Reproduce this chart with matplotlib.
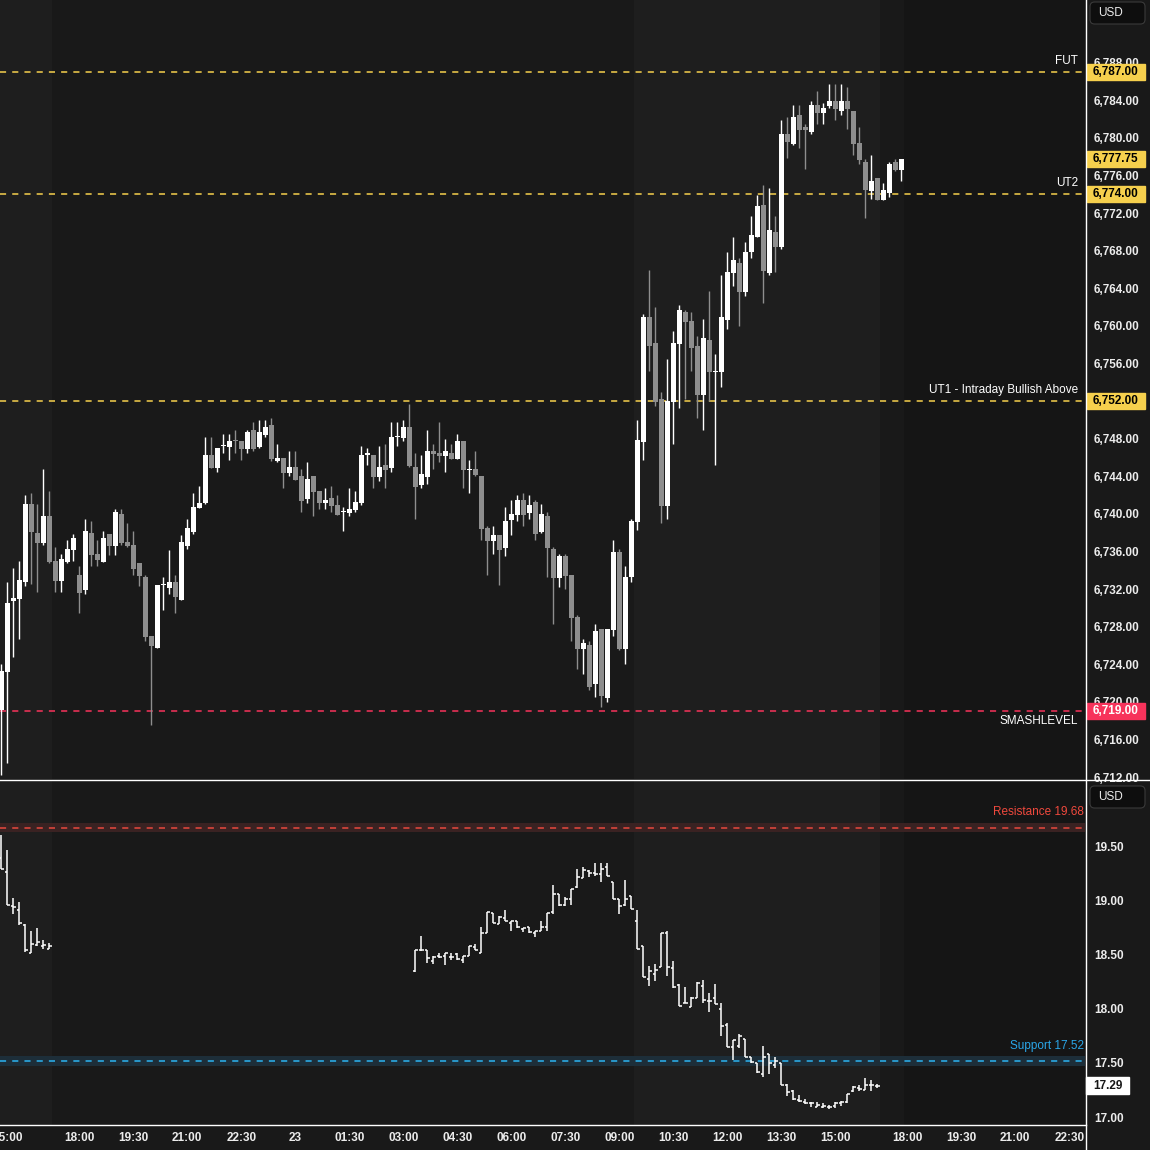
import numpy as np
import matplotlib.pyplot as plt
import matplotlib.transforms as mtransforms
from matplotlib.patches import Rectangle, FancyBboxPatch
from matplotlib.lines import Line2D

plt.rcParams['font.family'] = ['Liberation Sans', 'DejaVu Sans']

# ES futures, 10 minute candles (bar index 0 = 14:50)
es_open = [6719.1, 6723.2, 6730.7, 6730.9, 6732.7, 6741.0, 6738.0, 6736.9, 6739.8, 6735.0,
           6732.9, 6734.9, 6736.2, 6733.5, 6731.9, 6738.0, 6735.7, 6734.9, 6737.8, 6736.6,
           6740.0, 6737.0, 6736.7, 6734.8, 6733.3, 6727.0, 6725.7, 6732.4, 6732.1, 6732.7,
           6730.8, 6736.6, 6738.1, 6740.6, 6741.2, 6746.3, 6744.9, 6747.2, 6747.1, 6747.9,
           6747.7, 6746.9, 6748.9, 6747.1, 6748.4, 6749.4, 6745.6, 6745.9, 6744.3, 6745.0,
           6744.0, 6741.6, 6744.0, 6742.4, 6741.1, 6741.7, 6740.9, 6740.2, 6740.1, 6740.4,
           6741.1, 6746.3, 6746.3, 6743.9, 6745.2, 6744.9, 6748.2, 6748.1, 6749.2, 6745.0,
           6743.1, 6743.9, 6746.7, 6746.5, 6746.2, 6746.5, 6745.8, 6747.7, 6744.7, 6744.8,
           6744.0, 6738.5, 6737.1, 6737.7, 6736.4, 6739.3, 6739.9, 6741.5, 6740.1, 6741.3,
           6738.1, 6739.8, 6736.3, 6733.2, 6735.5, 6733.5, 6729.0, 6725.6, 6726.0, 6721.9,
           6727.7, 6720.4, 6727.6, 6735.9, 6725.6, 6733.3, 6739.1, 6747.6, 6760.9, 6758.2,
           6752.2, 6740.8, 6751.9, 6758.1, 6761.5, 6760.5, 6757.9, 6752.6, 6758.5, 6755.1,
           6755.1, 6760.6, 6765.6, 6766.7, 6763.6, 6767.9, 6769.5, 6772.9, 6765.6, 6770.0,
           6768.4, 6780.4, 6779.3, 6782.4, 6781.1, 6780.6, 6783.5, 6782.6, 6783.4, 6783.9,
           6782.8, 6783.9, 6782.9, 6779.4, 6777.4, 6774.3, 6775.7, 6773.4, 6774.1, 6777.4,
           6776.6]
es_high = [6724.0, 6732.8, 6734.2, 6735.0, 6742.0, 6742.2, 6741.0, 6744.8, 6742.4, 6736.5,
           6735.7, 6737.2, 6737.8, 6734.5, 6739.5, 6739.2, 6737.2, 6738.2, 6737.8, 6740.5,
           6740.5, 6739.0, 6738.2, 6734.8, 6733.5, 6727.0, 6732.4, 6733.3, 6736.2, 6733.5,
           6737.7, 6739.4, 6742.2, 6743.0, 6748.2, 6748.2, 6747.0, 6748.5, 6748.5, 6748.9,
           6747.7, 6748.9, 6749.8, 6750.0, 6750.0, 6750.2, 6747.4, 6745.9, 6746.7, 6746.7,
           6744.8, 6745.5, 6744.0, 6742.4, 6742.7, 6743.0, 6742.0, 6740.7, 6742.7, 6742.4,
           6747.2, 6747.0, 6746.3, 6747.2, 6747.4, 6749.8, 6749.8, 6750.0, 6751.7, 6746.5,
           6746.3, 6748.9, 6747.4, 6749.8, 6748.0, 6747.4, 6748.5, 6747.7, 6745.7, 6746.7,
           6744.0, 6738.7, 6738.7, 6737.7, 6740.7, 6741.5, 6742.0, 6742.2, 6742.0, 6741.5,
           6741.0, 6740.2, 6736.5, 6735.7, 6735.7, 6733.5, 6729.2, 6726.7, 6726.5, 6728.3,
           6727.7, 6727.7, 6737.2, 6736.3, 6734.4, 6739.5, 6750.0, 6761.3, 6765.9, 6762.0,
           6753.0, 6756.5, 6759.4, 6762.2, 6761.7, 6761.5, 6758.9, 6760.7, 6763.7, 6757.0,
           6765.4, 6767.9, 6769.4, 6767.2, 6768.9, 6771.7, 6773.9, 6775.0, 6774.7, 6771.7,
           6781.9, 6782.2, 6783.5, 6783.5, 6781.5, 6783.9, 6785.0, 6783.7, 6785.7, 6785.7,
           6785.7, 6785.4, 6782.9, 6781.1, 6777.7, 6778.2, 6775.7, 6775.2, 6777.4, 6777.7,
           6777.75]
es_low = [6712.2, 6713.5, 6724.8, 6726.7, 6732.3, 6732.5, 6731.7, 6736.7, 6734.8, 6731.7,
          6731.7, 6734.8, 6735.0, 6729.5, 6731.5, 6734.5, 6734.5, 6734.9, 6735.6, 6735.6,
          6736.7, 6736.5, 6733.5, 6732.3, 6726.5, 6717.5, 6725.7, 6729.8, 6731.5, 6729.5,
          6730.8, 6736.3, 6737.8, 6740.6, 6741.0, 6744.9, 6744.5, 6746.5, 6745.7, 6746.5,
          6745.7, 6746.5, 6746.7, 6747.0, 6748.2, 6745.6, 6745.5, 6742.7, 6744.0, 6743.6,
          6740.2, 6741.2, 6739.8, 6740.5, 6740.5, 6740.2, 6739.9, 6738.2, 6739.8, 6740.2,
          6740.9, 6745.2, 6742.7, 6743.5, 6742.7, 6744.4, 6747.2, 6747.7, 6745.0, 6739.4,
          6742.7, 6743.2, 6744.8, 6745.5, 6744.4, 6745.8, 6745.8, 6742.7, 6742.2, 6744.0,
          6737.2, 6733.5, 6735.7, 6732.4, 6735.5, 6737.7, 6739.2, 6738.7, 6739.4, 6737.2,
          6738.0, 6733.3, 6728.3, 6732.2, 6732.0, 6726.5, 6723.5, 6723.0, 6721.3, 6720.5,
          6719.5, 6720.0, 6727.0, 6725.5, 6724.0, 6732.8, 6738.3, 6745.7, 6755.2, 6751.5,
          6739.0, 6739.4, 6747.4, 6751.3, 6752.2, 6755.2, 6750.2, 6748.9, 6752.0, 6745.2,
          6753.5, 6759.7, 6764.2, 6760.0, 6763.2, 6767.2, 6769.4, 6762.4, 6765.4, 6765.7,
          6768.2, 6777.9, 6779.2, 6778.9, 6776.7, 6780.4, 6781.5, 6781.5, 6783.2, 6781.9,
          6782.4, 6780.9, 6778.2, 6777.2, 6771.5, 6773.5, 6773.4, 6773.4, 6773.7, 6776.5,
          6775.4]
es_close = [6723.3, 6730.5, 6731.0, 6733.0, 6741.0, 6738.1, 6736.9, 6739.8, 6734.9, 6732.9,
            6735.2, 6736.3, 6737.4, 6731.6, 6738.2, 6735.6, 6735.1, 6737.4, 6736.6, 6740.2,
            6736.9, 6736.6, 6734.1, 6733.4, 6726.9, 6725.9, 6732.4, 6732.5, 6732.7, 6731.2,
            6737.0, 6738.5, 6740.7, 6741.2, 6746.3, 6744.9, 6747.0, 6747.3, 6747.7, 6747.7,
            6746.9, 6748.7, 6746.9, 6748.7, 6749.2, 6745.8, 6745.9, 6744.3, 6745.0, 6743.6,
            6741.4, 6743.7, 6742.3, 6741.1, 6741.5, 6740.8, 6739.9, 6740.3, 6740.5, 6741.3,
            6746.3, 6746.4, 6743.9, 6745.0, 6744.7, 6748.2, 6748.3, 6749.2, 6745.1, 6742.9,
            6744.2, 6746.7, 6746.4, 6746.2, 6746.7, 6745.8, 6747.7, 6744.7, 6744.8, 6744.1,
            6738.4, 6737.1, 6737.7, 6736.1, 6739.2, 6740.0, 6741.5, 6739.9, 6740.9, 6737.9,
            6740.0, 6736.4, 6733.2, 6735.5, 6733.4, 6728.9, 6725.6, 6726.3, 6721.6, 6727.5,
            6720.6, 6727.7, 6735.9, 6725.6, 6733.3, 6739.2, 6747.8, 6760.9, 6757.9, 6751.9,
            6740.8, 6752.0, 6758.2, 6761.7, 6760.4, 6757.6, 6752.6, 6758.7, 6755.1, 6755.2,
            6760.9, 6765.7, 6767.0, 6763.6, 6767.9, 6769.7, 6772.7, 6765.8, 6770.2, 6768.4,
            6780.4, 6779.6, 6782.2, 6780.8, 6780.8, 6783.5, 6782.6, 6783.2, 6783.9, 6783.1,
            6783.9, 6783.1, 6779.3, 6777.6, 6774.5, 6775.4, 6773.4, 6774.4, 6777.2, 6776.6,
            6777.75]

# VIX, 10 minute OHLC bars (same bar index, gap overnight)
vix_idx = list(range(0, 9)) + list(range(69, 147))
vix_open = [19.40, 19.27, 18.95, 18.92, 18.78, 18.52, 18.59, 18.58, 18.56,
            18.35, 18.55, 18.55, 18.44, 18.49, 18.49, 18.48, 18.51, 18.45, 18.49,
            18.57, 18.52, 18.70, 18.89, 18.79, 18.84, 18.80, 18.81, 18.74, 18.76,
            18.70, 18.72, 18.76, 18.90, 19.06, 18.96, 19.02, 19.13, 19.21, 19.28,
            19.26, 19.25, 19.31, 19.18, 19.02, 18.96, 19.05, 18.81, 18.58, 18.28,
            18.32, 18.39, 18.70, 18.38, 18.22, 18.06, 18.02, 18.10, 18.21, 18.07,
            18.10, 18.00, 17.85, 17.65, 17.66, 17.72, 17.56, 17.50, 17.40, 17.58,
            17.48, 17.50, 17.30, 17.24, 17.16, 17.14, 17.13, 17.09, 17.09, 17.09,
            17.10, 17.13, 17.14, 17.24, 17.27, 17.25, 17.30, 17.29]
vix_high = [19.61, 19.47, 19.03, 18.99, 18.79, 18.72, 18.75, 18.64, 18.61,
            18.55, 18.68, 18.55, 18.49, 18.52, 18.52, 18.52, 18.52, 18.49, 18.58,
            18.60, 18.76, 18.90, 18.89, 18.86, 18.92, 18.81, 18.81, 18.75, 18.76,
            18.72, 18.81, 18.89, 19.15, 19.06, 19.04, 19.11, 19.30, 19.31, 19.29,
            19.35, 19.35, 19.35, 19.18, 19.02, 19.19, 19.05, 18.92, 18.58, 18.40,
            18.42, 18.70, 18.72, 18.44, 18.23, 18.20, 18.11, 18.25, 18.27, 18.15,
            18.23, 18.06, 17.87, 17.71, 17.77, 17.72, 17.56, 17.50, 17.66, 17.58,
            17.56, 17.50, 17.31, 17.25, 17.20, 17.17, 17.14, 17.14, 17.13, 17.11,
            17.14, 17.15, 17.21, 17.29, 17.30, 17.36, 17.34, 17.31]
vix_low = [19.30, 18.96, 18.88, 18.78, 18.53, 18.52, 18.58, 18.56, 18.56,
           18.34, 18.54, 18.43, 18.42, 18.47, 18.41, 18.45, 18.45, 18.43, 18.49,
           18.55, 18.52, 18.70, 18.80, 18.79, 18.81, 18.72, 18.75, 18.71, 18.70,
           18.67, 18.72, 18.72, 18.88, 18.95, 18.95, 18.96, 19.12, 19.21, 19.22,
           19.23, 19.18, 19.23, 19.02, 18.88, 18.95, 18.93, 18.56, 18.30, 18.21,
           18.26, 18.39, 18.31, 18.19, 18.03, 18.06, 18.02, 18.10, 18.06, 17.97,
           18.05, 17.75, 17.65, 17.53, 17.64, 17.56, 17.50, 17.41, 17.37, 17.40,
           17.45, 17.30, 17.19, 17.16, 17.14, 17.12, 17.09, 17.09, 17.08, 17.07,
           17.08, 17.10, 17.13, 17.23, 17.24, 17.25, 17.24, 17.27]
vix_close = [19.30, 18.96, 18.94, 18.80, 18.55, 18.60, 18.62, 18.59, 18.58,
             18.55, 18.55, 18.47, 18.48, 18.48, 18.52, 18.48, 18.46, 18.49, 18.58,
             18.55, 18.70, 18.90, 18.80, 18.85, 18.81, 18.81, 18.76, 18.75, 18.71,
             18.72, 18.76, 18.89, 19.06, 18.96, 19.02, 19.11, 19.22, 19.29, 19.26,
             19.25, 19.30, 19.23, 19.02, 18.95, 19.02, 18.93, 18.56, 18.30, 18.35,
             18.36, 18.70, 18.39, 18.20, 18.03, 18.06, 18.10, 18.24, 18.08, 18.07,
             18.05, 17.84, 17.65, 17.71, 17.75, 17.56, 17.51, 17.42, 17.56, 17.50,
             17.52, 17.30, 17.23, 17.17, 17.15, 17.13, 17.13, 17.11, 17.10, 17.09,
             17.13, 17.14, 17.21, 17.28, 17.26, 17.30, 17.30, 17.29]

time_ticks = [1, 13, 22, 31, 40, 49, 58, 67, 76, 85, 94, 103, 112, 121, 130, 139,
              151, 160, 169, 178]
time_labels = ["15:00", "18:00", "19:30", "21:00", "22:30", "23", "01:30", "03:00",
               "04:30", "06:00", "07:30", "09:00", "10:30", "12:00", "13:30", "15:00",
               "18:00", "19:30", "21:00", "22:30"]

es_levels = [6787.00, 6774.00, 6752.00, 6719.00]
es_level_names = ["FUT", "UT2", "UT1 - Intraday Bullish Above", "SMASHLEVEL"]
last_es = 6777.75
vix_resistance = 19.68
vix_support = 17.52
last_vix = 17.29

# colours
BG = '#191919'
BG_RTH = '#1e1e1e'
BG_FUT = '#151515'
UP = '#ffffff'
DOWN = '#8e8e8e'
YEL = '#f6d04d'
RED = '#f7335b'
TXT = '#ececec'

W = 1150.0
fig = plt.figure(figsize=(11.5, 11.5), dpi=100, facecolor=BG)
ax1 = fig.add_axes([0, 1 - 779 / W, 1085 / W, 779 / W])
ax2 = fig.add_axes([0, 1 - 1125 / W, 1085 / W, 345 / W])

xmin, xmax = -1.3 / 6, (1085 - 1.3) / 6
for ax in (ax1, ax2):
    ax.set_facecolor(BG)
    ax.axvspan(-1, 8.5, color=BG_RTH, lw=0, zorder=0)
    ax.axvspan(105.5, 146.5, color=BG_RTH, lw=0, zorder=0)
    ax.axvspan(150.5, 200, color=BG_FUT, lw=0, zorder=0)
    ax.set_xlim(xmin, xmax)
    for s in ax.spines.values():
        s.set_visible(False)
    ax.yaxis.tick_right()
    ax.tick_params(axis='y', length=0, pad=6.5, labelsize=8.5, labelcolor=TXT)
    ax.tick_params(axis='x', length=0)

# candles
idx = np.arange(len(es_open))
o = np.array(es_open)
h = np.array(es_high)
l = np.array(es_low)
c = np.array(es_close)
cols = np.where(c >= o, UP, DOWN)
ax1.vlines(idx, l, h, colors=cols, lw=1, zorder=3)
ax1.bar(idx, np.maximum(np.abs(c - o), 0.12), width=0.86, bottom=np.minimum(o, c),
        color=cols, lw=0, zorder=4)

ax1.set_ylim(6711.79, 6794.66)
yt = np.arange(6712, 6789, 4)
ax1.set_yticks(yt)
ax1.set_yticklabels([f"{v:,.2f}" for v in yt], fontweight='bold')
ax1.set_xticks([])

# level lines
lvl_cols = [YEL, YEL, YEL, RED]
for p, name, col in zip(es_levels, es_level_names, lvl_cols):
    ax1.axhline(p, color=col, lw=1.1, ls=(0, (4, 4)), zorder=2)
    if name == "SMASHLEVEL":
        ax1.annotate(name, xy=(1078 / 1085, p), xycoords=('axes fraction', 'data'),
                     xytext=(0, -3), textcoords='offset points', ha='right', va='top',
                     color='white', fontsize=8.5)
    else:
        ax1.annotate(name, xy=(1078 / 1085, p), xycoords=('axes fraction', 'data'),
                     xytext=(0, 3.5), textcoords='offset points', ha='right', va='bottom',
                     color='white', fontsize=8.5)

tr1 = mtransforms.blended_transform_factory(ax1.transAxes, ax1.transData)
box_h = 16 / 9.4
for p, col in zip(es_levels + [last_es], lvl_cols + [YEL]):
    ax1.add_patch(Rectangle((1087 / 1085, p - box_h / 2), 58 / 1085, box_h,
                            transform=tr1, color=col, clip_on=False, zorder=5))
    ax1.text(1093 / 1085, p, f"{p:,.2f}", transform=tr1, va='center', ha='left',
             fontsize=8.5, fontweight='bold',
             color='white' if col == RED else 'black', zorder=6)

# VIX bars
vi = np.array(vix_idx)
ax2.vlines(vi, vix_low, vix_high, colors='white', lw=1.1, zorder=3)
ax2.hlines(vix_open, vi - 0.4, vi, colors='white', lw=1.1, zorder=3)
ax2.hlines(vix_close, vi, vi + 0.4, colors='white', lw=1.1, zorder=3)

ax2.set_ylim(16.926, 20.12)
yt2 = np.arange(17.0, 19.51, 0.5)
ax2.set_yticks(yt2)
ax2.set_yticklabels([f"{v:.2f}" for v in yt2], fontweight='bold')
ax2.set_xticks(time_ticks)
ax2.set_xticklabels(time_labels, fontweight='bold')
ax2.tick_params(axis='x', pad=5, labelsize=8.5, labelcolor=TXT)

ax2.axhspan(vix_resistance - 0.045, vix_resistance + 0.04, color='#3a2222', lw=0, zorder=1)
ax2.axhline(vix_resistance, color='#e8493e', lw=1.1, ls=(0, (4, 4)), zorder=2)
ax2.annotate(f"Resistance {vix_resistance:.2f}", xy=(1084 / 1085, vix_resistance),
             xycoords=('axes fraction', 'data'), xytext=(0, 6.5), textcoords='offset points',
             ha='right', va='bottom', color='#f0493d', fontsize=8.5)
ax2.axhspan(vix_support - 0.045, vix_support + 0.045, color='#1d2e39', lw=0, zorder=1)
ax2.axhline(vix_support, color='#2cb4f2', lw=1.1, ls=(0, (4, 4)), zorder=2)
ax2.annotate(f"Support {vix_support:.2f}", xy=(1084 / 1085, vix_support),
             xycoords=('axes fraction', 'data'), xytext=(0, 6.5), textcoords='offset points',
             ha='right', va='bottom', color='#2aa6e8', fontsize=8.5)

tr2 = mtransforms.blended_transform_factory(ax2.transAxes, ax2.transData)
ax2.add_patch(Rectangle((1086 / 1085, last_vix - 8.5 / 108), 43 / 1085, 17 / 108,
                        transform=tr2, color='white', clip_on=False, zorder=5))
ax2.text(1093 / 1085, last_vix, f"{last_vix:.2f}", transform=tr2, va='center', ha='left',
         fontsize=8.5, fontweight='bold', color='#161616', zorder=6)

# separators
fig.add_artist(Line2D([0, 1], [1 - 779.5 / W] * 2, color='white', lw=1))
fig.add_artist(Line2D([0, 1085.5 / W], [1 - 1124.5 / W] * 2, color='white', lw=1))
fig.add_artist(Line2D([1085.5 / W] * 2, [0, 1], color='white', lw=1))

# currency boxes
for top in (1, 785):
    fig.add_artist(FancyBboxPatch((1090 / W, 1 - (top + 23) / W), 55 / W, 22 / W,
                                  boxstyle='round,pad=0,rounding_size=0.004',
                                  fc='#0e0e0e', ec='#3a3a3a', lw=0.8, zorder=5))
    fig.text(1098 / W, 1 - (top + 12) / W, "USD", color=TXT, fontsize=8.5,
             va='center', ha='left', zorder=6)

fig.savefig('out.png', dpi=100, facecolor=BG)
